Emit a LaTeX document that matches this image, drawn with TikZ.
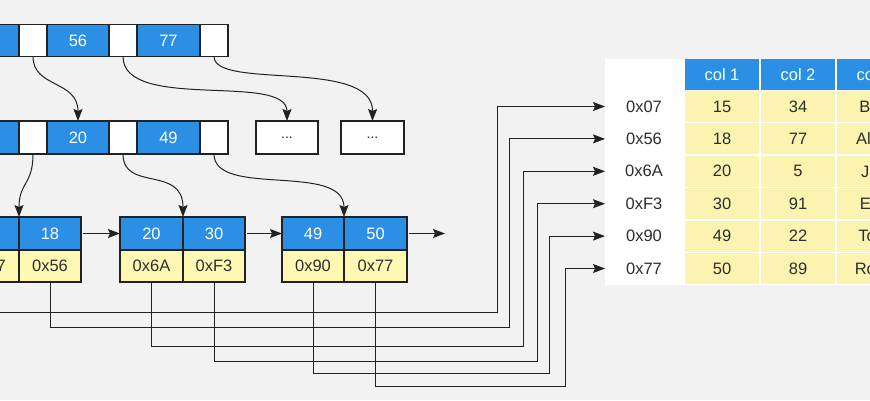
\documentclass[tikz,border=0pt]{standalone}
\usepackage{fontspec}
\setmainfont{Liberation Sans}
\usetikzlibrary{arrows.meta}
\definecolor{bg}{HTML}{F2F2F2}
\definecolor{kblue}{HTML}{2B8FE5}
\definecolor{kyel}{HTML}{FFF8B3}
\definecolor{tyel}{HTML}{FCF3B0}
\definecolor{ink}{HTML}{222222}
\definecolor{txt}{HTML}{2E2E2E}
\begin{document}
\begin{tikzpicture}[x=1pt,y=-1pt,
  cell/.style={draw=ink, line width=1.5pt, inner sep=0pt, outer sep=0pt, font=\fontsize{16.5}{19}\selectfont},
  key/.style={cell, fill=kblue, text=white},
  ptr/.style={cell, fill=white},
  val/.style={cell, fill=kyel, text=txt},
  dots/.style={cell, fill=white, text=txt, font=\fontsize{14}{16}\selectfont},
  arr/.style={-{Stealth[length=12pt,width=9pt,inset=2pt]}, line width=1pt, draw=ink},
  wire/.style={arr, line width=1pt},
  thead/.style={inner sep=0pt, outer sep=0pt, fill=kblue, text=white, minimum width=74pt, minimum height=31pt, font=\fontsize{16.5}{19}\selectfont},
  tcell/.style={inner sep=0pt, outer sep=0pt, fill=tyel, text=txt, minimum width=74pt, minimum height=31pt, font=\fontsize{16.5}{19}\selectfont},
  rlab/.style={inner sep=0pt, outer sep=0pt, text=txt, minimum width=78pt, minimum height=31pt, font=\fontsize{16.5}{19}\selectfont}
]
\useasboundingbox (0,0) rectangle (870,400);
\clip (0,0) rectangle (870,400);
\fill[bg] (0,0) rectangle (870,400);

% root row
\node[key, minimum width=62pt, minimum height=32pt] (t0) at (-12,40.5) {};
\node[ptr, minimum width=28pt, minimum height=32pt] (tp1) at (33,40.5) {};
\node[key, minimum width=62pt, minimum height=32pt] (tk1) at (78,40.5) {56};
\node[ptr, minimum width=28pt, minimum height=32pt] (tp2) at (123,40.5) {};
\node[key, minimum width=63pt, minimum height=32pt] (tk2) at (168.5,40.5) {77};
\node[ptr, minimum width=28pt, minimum height=32pt] (tp3) at (214,40.5) {};

% second row
\node[key, minimum width=62pt, minimum height=33pt] (s0) at (-12,137.5) {};
\node[ptr, minimum width=28pt, minimum height=33pt] (sp1) at (33,137.5) {};
\node[key, minimum width=62pt, minimum height=33pt] (sk1) at (78,137.5) {20};
\node[ptr, minimum width=28pt, minimum height=33pt] (sp2) at (123,137.5) {};
\node[key, minimum width=63pt, minimum height=33pt] (sk2) at (168.5,137.5) {49};
\node[ptr, minimum width=28pt, minimum height=33pt] (sp3) at (214,137.5) {};
\node[dots, minimum width=62pt, minimum height=33pt] (d1) at (287,137.5) {...};
\node[dots, minimum width=63pt, minimum height=33pt] (d2) at (372.5,137.5) {...};

% leaves
\node[key, minimum width=62pt, minimum height=33pt] (a1k) at (-12,233.5) {};
\node[key, minimum width=62pt, minimum height=33pt] (a2k) at (50,233.5) {18};
\node[val, minimum width=62pt, minimum height=32pt] (a1v) at (-12,266) {0x07};
\node[val, minimum width=62pt, minimum height=32pt] (a2v) at (50,266) {0x56};

\node[key, minimum width=63pt, minimum height=33pt] (b1k) at (151.5,233.5) {20};
\node[key, minimum width=62pt, minimum height=33pt] (b2k) at (214,233.5) {30};
\node[val, minimum width=63pt, minimum height=32pt] (b1v) at (151.5,266) {0x6A};
\node[val, minimum width=62pt, minimum height=32pt] (b2v) at (214,266) {0xF3};

\node[key, minimum width=62pt, minimum height=33pt] (c1k) at (313,233.5) {49};
\node[key, minimum width=63pt, minimum height=33pt] (c2k) at (375.5,233.5) {50};
\node[val, minimum width=62pt, minimum height=32pt] (c1v) at (313,266) {0x90};
\node[val, minimum width=63pt, minimum height=32pt] (c2v) at (375.5,266) {0x77};
\coordinate (cend) at (445,233.5);

% tree arrows
\draw[arr] (tp1.south) .. controls (33,88) and (78,80) .. (sk1.north);
\draw[arr] (tp2.south) .. controls (123,112) and (287,72) .. (d1.north);
\draw[arr] (tp3.south) .. controls (214,90) and (373,58) .. (d2.north);
\draw[arr] (sp1.south) .. controls (33,185) and (19,182) .. (a1k.north east);
\draw[arr] (sp2.south) .. controls (123,192) and (183,165) .. (b1k.north east);
\draw[arr] (sp3.south) .. controls (214,198) and (344,162) .. (c1k.north east);

% leaf links
\draw[arr, shorten <=2pt] (a2k.east) -- (b1k.west);
\draw[arr, shorten <=2pt] (b2k.east) -- (c1k.west);
\draw[arr, shorten <=2pt] (c2k.east) -- (cend);

% table
\fill[white] (605,59) rectangle (910,285);
\node[thead] (h1) at (722,74.5) {col 1};
\node[thead] (h2) at (798,74.5) {col 2};
\node[thead] (h3) at (874,74.5) {col 3};
\foreach \k/\lab/\ca/\cb/\cc in {0/0x07/15/34/Bob,1/0x56/18/77/Alice,2/0x6A/20/5/Jim,3/0xF3/30/91/Eric,4/0x90/49/22/Tom,5/0x77/50/89/Rose}{
  \node[rlab] (r\k) at (644,106.5+32.4*\k) {\lab};
  \node[tcell] (v\k a) at (722,106.5+32.4*\k) {\ca};
  \node[tcell] (v\k b) at (798,106.5+32.4*\k) {\cb};
  \node[tcell] (v\k c) at (874,106.5+32.4*\k) {\cc};
}

% pointer wires
\draw[wire] (a1v.south) |- (497,312) |- (r0.west);
\draw[wire] (a2v.south) |- (509,327) |- (r1.west);
\draw[wire] (b1v.south) |- (523,346) |- (r2.west);
\draw[wire] (b2v.south) |- (537,361) |- (r3.west);
\draw[wire] (c1v.south) |- (549,373) |- (r4.west);
\draw[wire] (c2v.south) |- (565,386) |- (r5.west);
\end{tikzpicture}
\end{document}
